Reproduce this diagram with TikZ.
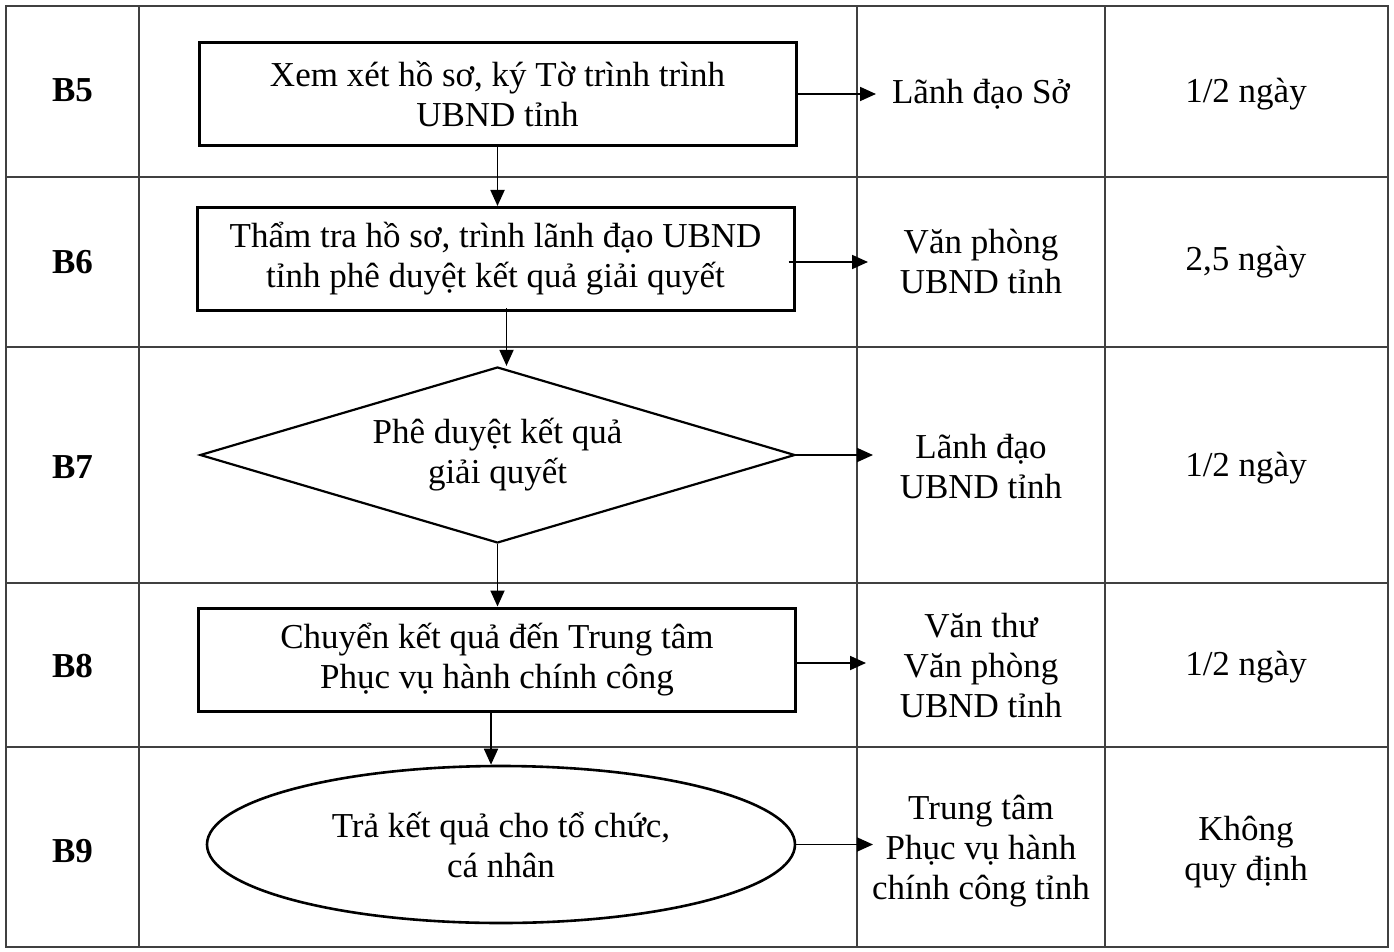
\documentclass[tikz,border=0pt]{standalone}
\usepackage{fontspec}
\setmainfont{Liberation Serif}
\usetikzlibrary{arrows.meta,shapes.geometric,calc}
\begin{document}
\begin{tikzpicture}[x=1pt,y=-1pt,
  every node/.style={font=\fontsize{35}{40}\selectfont, align=center, inner sep=0pt},
  gridline/.style={draw=black!75, line width=1.6pt},
  procbox/.style={draw, line width=3pt, minimum width=597pt, minimum height=103pt},
  decide/.style={diamond, draw, line width=2.2pt, shape aspect=3.38, minimum width=595pt, minimum height=176pt},
  terminal/.style={ellipse, draw, line width=2.6pt, minimum width=588pt, minimum height=157pt},
  steplabel/.style={font=\fontsize{35}{40}\selectfont\bfseries},
  flow/.style={line width=1.8pt, -{Triangle[length=16pt,width=14pt]}}
]
\useasboundingbox (0,0) rectangle (1394,952);

% table grid
\draw[gridline] (6,6) rectangle (1388,947);
\foreach \xx in {139,857,1105} \draw[gridline] (\xx,6) -- (\xx,947);
\foreach \yy in {177,347,583,747} \draw[gridline] (6,\yy) -- (1388,\yy);

% step labels
\node[steplabel] (l5) at (72.5,90) {B5};
\node[steplabel] (l6) at (72.5,262) {B6};
\node[steplabel] (l7) at (72.5,467) {B7};
\node[steplabel] (l8) at (72.5,666) {B8};
\node[steplabel] (l9) at (72.5,851) {B9};

% flow shapes
\node[procbox] (b5) at (497.5,94.5) {Xem xét hồ sơ, ký Tờ trình trình\\UBND tỉnh};
\node[procbox] (b6) at (495.5,259) {Thẩm tra hồ sơ, trình lãnh đạo UBND\\tỉnh phê duyệt kết quả giải quyết};
\node[decide] (b7) at (497.5,455) {Phê duyệt kết quả\\giải quyết};
\node[procbox] (b8) at (497,659.5) {Chuyển kết quả đến Trung tâm\\Phục vụ hành chính công};
\node[terminal] (b9) at (501,844.5) {Trả kết quả cho tổ chức,\\cá nhân};

% responsible
\node (r5) at (981,94) {Lãnh đạo Sở};
\node (r6) at (981,262) {Văn phòng\\UBND tỉnh};
\node (r7) at (981,467) {Lãnh đạo\\UBND tỉnh};
\node (r8) at (981,666) {Văn thư\\Văn phòng\\UBND tỉnh};
\node (r9) at (981,851) {Trung tâm\\Phục vụ hành\\chính công tỉnh};

% time
\node (t5) at (1246,94) {1/2 ngày};
\node (t6) at (1246,262) {2,5 ngày};
\node (t7) at (1246,468) {1/2 ngày};
\node (t8) at (1246,667) {1/2 ngày};
\node (t9) at (1246,852) {Không\\quy định};

% vertical flow
\draw[flow] (b5.south) -- (b5.south |- b6.north);
\coordinate (s6) at ($(b6.south)+(11,-4)$);
\draw[flow] (s6) -- (s6 |- b7.north);
\draw[flow] (b7.south) -- (b7.south |- b8.north);
\coordinate (s8) at ($(b8.south)+(-6,0)$);
\draw[flow] (s8) -- (s8 |- b9.north);

% horizontal flow
\coordinate (e5) at (876,94);
\coordinate (e6) at (868,262);
\coordinate (e7) at (873,455);
\coordinate (e8) at (866,663);
\coordinate (e9) at (873,844.5);
\draw[flow] (b5.east |- e5) -- (e5);
\draw[flow] ($(b6.east |- e6)+(-7,0)$) -- (e6);
\draw[flow] (b7.east) -- (e7);
\draw[flow] (b8.east |- e8) -- (e8);
\draw[flow] (b9.east) -- (e9);
\end{tikzpicture}
\end{document}
